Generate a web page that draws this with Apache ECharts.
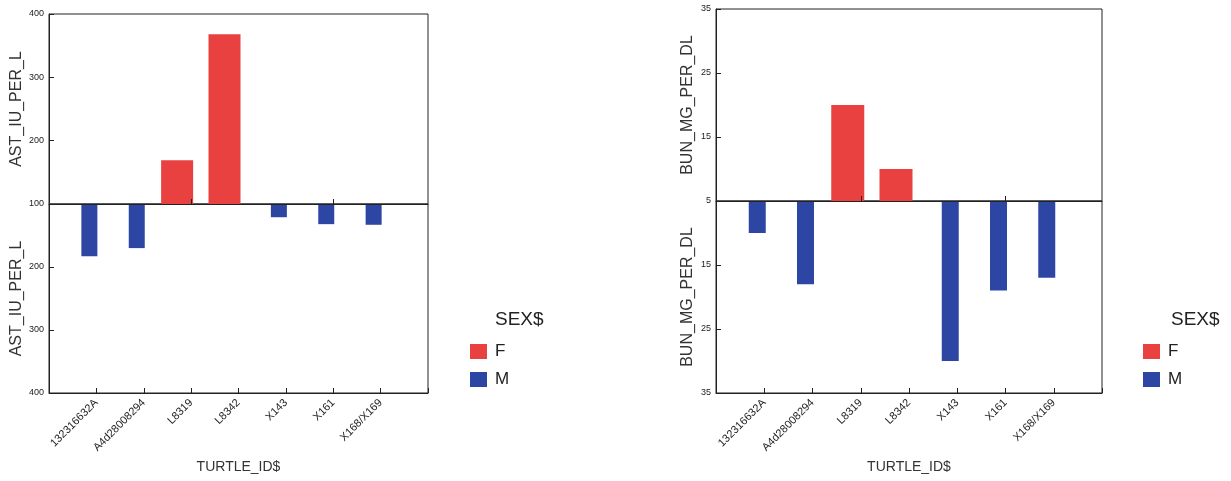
<!DOCTYPE html>
<html><head><meta charset="utf-8">
<script src="https://cdn.jsdelivr.net/npm/echarts@6/dist/echarts.min.js"></script>
<style>html,body{margin:0;padding:0;background:#fff}#c{width:1231px;height:481px}</style>
</head><body><div id="c"></div>
<script>
// ---- data ----
const categories = ['132316632A', 'A4d28008294', 'L8319', 'L8342', 'X143', 'X161', 'X168/X169'];
const astF = [null, null, 169, 368, null, null, null];
const astM = [183, 170, null, null, 121, 132, 133];
const bunF = [null, null, 20, 10, null, null, null];
const bunM = [10, 18, null, null, 30, 19, 17];
const astAxis = [100, 400, 100]; // min, max, step
const bunAxis = [5, 35, 10];
const legendTitle = 'SEX$';
const xName = 'TURTLE_ID$';

// ---- styles ----
const FONT = 'Liberation Sans, Arial, sans-serif';
const INK = '#222';
const RED = '#e8413f';
const BLUE = '#2e46a3';

const pad = a => [null, ...a, null];
const cats = ['', ...categories, ''];

const option = {
  backgroundColor: '#fff',
  animation: false,
  textStyle: { fontFamily: FONT },
  grid: [], xAxis: [], yAxis: [], series: [], legend: [], title: []
};

function panel(p) {
  const g = option.grid.length;
  const hTop = p.mid - p.top, hBot = p.bottom - p.mid;
  option.grid.push(
    { left: p.left, top: p.top, width: p.w, height: hTop, show: true, borderColor: INK, borderWidth: 1, backgroundColor: 'transparent' },
    { left: p.left, top: p.mid, width: p.w, height: hBot, show: true, borderColor: INK, borderWidth: 1, backgroundColor: 'transparent' },
    { left: p.left - p.shiftF, top: p.top, width: p.w, height: hTop },
    { left: p.left - p.shiftM, top: p.mid, width: p.w, height: hBot }
  );
  const baseX = { type: 'category', data: cats, boundaryGap: false };
  const visTick = { show: true, inside: true, length: 5, lineStyle: { color: INK } };
  option.xAxis.push(
    Object.assign({}, baseX, { gridIndex: g, z: 5, position: 'bottom', axisLine: { onZero: false, lineStyle: { color: INK } }, axisTick: visTick, axisLabel: { show: false }, splitLine: { show: false } }),
    Object.assign({}, baseX, { gridIndex: g + 1, z: 5, position: 'bottom', axisLine: { onZero: false, lineStyle: { color: INK } }, axisTick: visTick,
      axisLabel: { interval: 0, rotate: 45, fontSize: 11, color: INK, margin: 8, fontFamily: FONT },
      splitLine: { show: false },
      name: xName, nameLocation: 'middle', nameGap: 67, nameTextStyle: { fontSize: 14, color: '#333', fontFamily: FONT } }),
    Object.assign({}, baseX, { gridIndex: g + 2, show: false }),
    Object.assign({}, baseX, { gridIndex: g + 3, show: false })
  );
  const [mn, mx, st] = p.axis;
  const baseY = { type: 'value', min: mn, max: mx, interval: st, splitLine: { show: false } };
  const visY = {
    z: 5,
    axisLine: { show: true, lineStyle: { color: INK } },
    axisTick: visTick,
    axisLabel: { fontSize: 9, color: INK, margin: 5, fontFamily: FONT },
    name: p.yName, nameLocation: 'middle', nameGap: p.nameGap,
    nameTextStyle: { fontSize: 16, color: '#333', fontFamily: FONT }
  };
  option.yAxis.push(
    Object.assign({}, baseY, visY, { gridIndex: g }),
    Object.assign({}, baseY, visY, { gridIndex: g + 1, inverse: true, axisLabel: Object.assign({}, visY.axisLabel, { showMinLabel: false }) }),
    Object.assign({}, baseY, { gridIndex: g + 2, show: false }),
    Object.assign({}, baseY, { gridIndex: g + 3, show: false, inverse: true })
  );
  option.series.push(
    { name: 'F', type: 'bar', xAxisIndex: g + 2, yAxisIndex: g + 2, data: pad(p.f), barWidth: p.wF, clip: true, itemStyle: { color: RED }, z: 1 },
    { name: 'M', type: 'bar', xAxisIndex: g + 3, yAxisIndex: g + 3, data: pad(p.m), barWidth: p.wM, clip: true, itemStyle: { color: BLUE }, z: 1 }
  );
  option.title.push({ text: legendTitle, left: p.legX + p.titleDx, top: p.legY - 33, padding: 0,
    textStyle: { fontSize: 19, fontWeight: 'normal', color: INK, fontFamily: FONT } });
  option.legend.push({ data: ['F', 'M'], orient: 'vertical', left: p.legX, top: p.legY, padding: 0,
    itemWidth: 17, itemHeight: 15, itemGap: 11, icon: 'rect',
    textStyle: { fontSize: 17, color: INK, fontFamily: FONT, padding: [0, 0, 0, 3] } });
}

panel({ left: 49, w: 379, top: 14, mid: 204, bottom: 393, axis: astAxis, yName: 'AST_IU_PER_L', nameGap: 22,
  f: astF, m: astM, wF: 32, wM: 16, shiftF: 14, shiftM: 7, legX: 470, legY: 343, titleDx: 25 });
panel({ left: 716, w: 386, top: 9, mid: 201, bottom: 393, axis: bunAxis, yName: 'BUN_MG_PER_DL', nameGap: 20,
  f: bunF, m: bunM, wF: 33, wM: 17, shiftF: 13, shiftM: 7, legX: 1143, legY: 343, titleDx: 28 });

const chart = echarts.init(document.getElementById('c'), null, { renderer: 'canvas' });
chart.setOption(option);
</script>
</body></html>
